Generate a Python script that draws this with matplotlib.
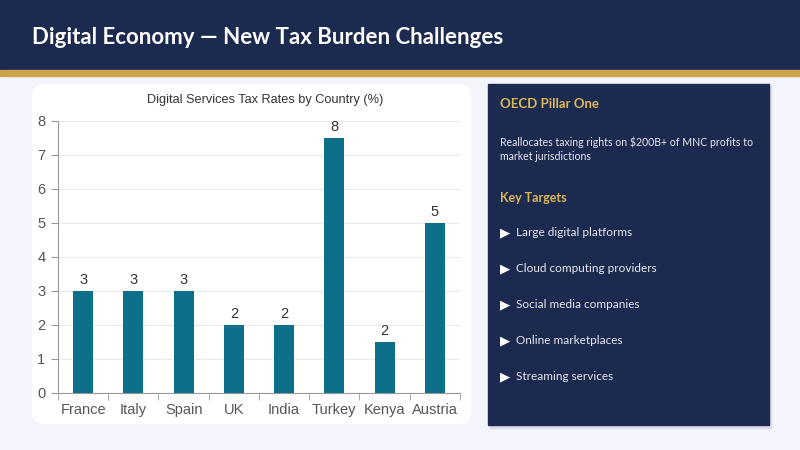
import matplotlib
matplotlib.use("Agg")
import matplotlib.pyplot as plt
from matplotlib.patches import Rectangle, FancyBboxPatch
import math

countries = ["France", "Italy", "Spain", "UK", "India", "Turkey", "Kenya", "Austria"]
rates = [3, 3, 3, 2, 2, 7.5, 1.5, 5]
yticks = [0, 1, 2, 3, 4, 5, 6, 7, 8]

title = "Digital Economy \u2014 New Tax Burden Challenges"
chart_title = "Digital Services Tax Rates by Country (%)"
panel_head = "OECD Pillar One"
panel_text = ["Reallocates taxing rights on $200B+ of MNC profits to", "market jurisdictions"]
targets_head = "Key Targets"
targets = ["Large digital platforms", "Cloud computing providers", "Social media companies",
           "Online marketplaces", "Streaming services"]

W, H = 800, 450
NAVY = "#1c2a50"
GOLD = "#c9a44c"
GOLD_TXT = "#dcb75a"
BAR = "#0e6f8a"
BG = "#f4f4fc"

fig = plt.figure(figsize=(8, 4.5), dpi=100)
fig.patch.set_facecolor(BG)

def fx(x): return x / W
def fy(y): return 1 - y / H

# header
fig.patches.append(Rectangle((0, fy(70)), 1, 70 / H, transform=fig.transFigure, color=NAVY, zorder=0))
fig.patches.append(Rectangle((0, fy(76)), 1, 6 / H, transform=fig.transFigure, color=GOLD, zorder=0))
fig.text(fx(32), fy(38), title, color="white", fontsize=16, fontweight="bold",
         family="Lato", va="center", ha="left")

# chart card
fig.patches.append(FancyBboxPatch((fx(32), fy(424)), (471 - 32) / W, (424 - 84) / H,
                                  boxstyle="round,pad=0,rounding_size=0.015",
                                  transform=fig.transFigure, facecolor="white",
                                  edgecolor="none", zorder=0.5,
                                  mutation_aspect=W / H))

# right panel with shadow
fig.patches.append(Rectangle((fx(490), fy(428)), (771 - 490) / W, (428 - 86) / H,
                             transform=fig.transFigure, color="#dcdcea", zorder=0.4))
fig.patches.append(Rectangle((fx(488), fy(425)), (769 - 488) / W, (425 - 84) / H,
                             transform=fig.transFigure, color=NAVY, zorder=0.5))
fig.text(fx(500), fy(104), panel_head, color=GOLD_TXT, fontsize=9.5, fontweight="bold",
         family="Lato", va="center")
for i, line in enumerate(panel_text):
    fig.text(fx(500), fy(142 + 14 * i), line, color="#e6e8f0", fontsize=7.6,
             family="Lato", va="center")
fig.text(fx(500), fy(198), targets_head, color=GOLD_TXT, fontsize=9, fontweight="bold",
         family="Lato", va="center")
for i, t in enumerate(targets):
    y = 233 + 36 * i
    fig.text(fx(500), fy(y), "\u25B6", color="white", fontsize=9.5, family="DejaVu Sans",
             va="center")
    fig.text(fx(516), fy(y), t, color="#e6e8f0", fontsize=8.5, family="Lato", va="center")

# bar chart
ax = fig.add_axes([fx(58), fy(393), (460 - 58) / W, (393 - 121) / H])
ax.set_zorder(2)
ax.set_facecolor("none")
x = list(range(len(countries)))
ax.bar(x, rates, width=0.4, color=BAR, zorder=3)
for xi, v in zip(x, rates):
    ax.text(xi, v + 0.12, str(int(math.floor(v + 0.5))), ha="center", va="bottom",
            fontsize=10.5, color="#333333", family="Liberation Sans")
ax.set_xlim(-0.5, len(countries) - 0.5)
ax.set_ylim(0, 8)
ax.set_yticks(yticks)
ax.set_xticks(x)
ax.set_xticklabels(countries)
ax.set_xticks([i - 0.5 for i in range(len(countries) + 1)], minor=True)
ax.tick_params(axis="x", which="major", length=0, pad=7)
ax.tick_params(axis="x", which="minor", length=5, color="#999999")
ax.tick_params(axis="y", length=5, color="#999999", pad=4)
for lab in ax.get_xticklabels() + ax.get_yticklabels():
    lab.set_fontsize(10.5)
    lab.set_color("#555555")
    lab.set_family("Liberation Sans")
ax.grid(axis="y", color="#e8e8ef", linewidth=0.8, zorder=0)
for s in ["top", "right"]:
    ax.spines[s].set_visible(False)
ax.spines["left"].set_color("#999999")
ax.spines["bottom"].set_color("#999999")
fig.text(fx(265), fy(100), chart_title, ha="center", va="center", fontsize=9.2,
         color="#333333", family="Liberation Sans", zorder=3)

fig.savefig("out.png", dpi=100, facecolor=fig.get_facecolor())
